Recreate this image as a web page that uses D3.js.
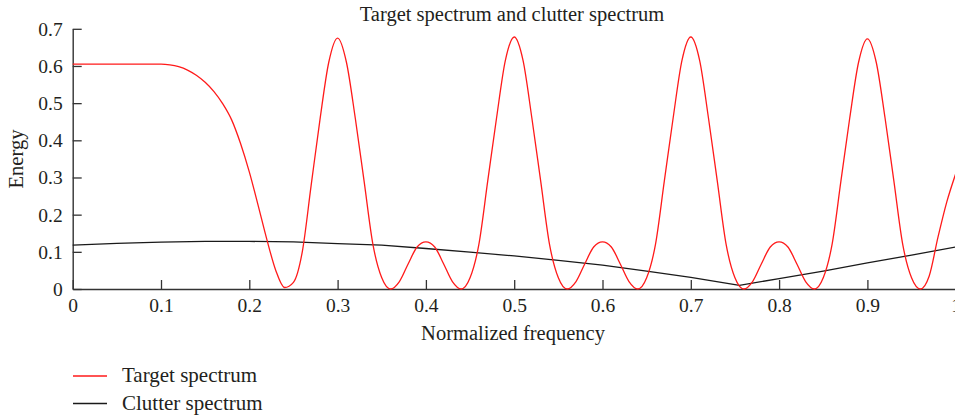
<!DOCTYPE html>
<html>
<head>
<meta charset="utf-8">
<script src="https://cdn.jsdelivr.net/npm/d3@7"></script>
<style>
  body { margin: 0; background: #fff; }
  svg { display: block; }
  text { font-family: "Liberation Serif", "DejaVu Serif", serif; fill: #231f20; }
</style>
</head>
<body>
<script>
// values
var targetFreq = d3.range(0, 101).map(function(i) { return i / 100; });
var targetEnergy = [
  0.605, 0.605, 0.605, 0.605, 0.605, 0.605, 0.605, 0.605, 0.605, 0.605,
  0.605, 0.603, 0.598, 0.589, 0.575, 0.556, 0.531, 0.498, 0.455, 0.392,
  0.315, 0.225, 0.132, 0.050, 0.004, 0.018, 0.100, 0.278, 0.455, 0.610,
  0.675, 0.610, 0.460, 0.290, 0.120, 0.030, 0.000, 0.020, 0.068, 0.113,
  0.127, 0.113, 0.068, 0.020, 0.000, 0.030, 0.120, 0.290, 0.460, 0.615,
  0.678, 0.615, 0.460, 0.290, 0.120, 0.030, 0.000, 0.020, 0.068, 0.113,
  0.127, 0.113, 0.068, 0.020, 0.000, 0.030, 0.120, 0.290, 0.460, 0.615,
  0.678, 0.615, 0.460, 0.290, 0.120, 0.030, 0.000, 0.020, 0.068, 0.113,
  0.127, 0.113, 0.068, 0.020, 0.000, 0.030, 0.120, 0.290, 0.460, 0.610,
  0.673, 0.610, 0.460, 0.290, 0.120, 0.030, 0.000, 0.035, 0.140, 0.235,
  0.310
];

var clutterFreq = [0, 0.05, 0.1, 0.15, 0.2, 0.25, 0.3, 0.35, 0.4, 0.45, 0.5,
  0.55, 0.6, 0.65, 0.7, 0.75, 0.755, 0.8, 0.85, 0.9, 0.95, 1];
var clutterEnergy = [0.118, 0.123, 0.126, 0.128, 0.128, 0.127, 0.122, 0.118, 0.109, 0.099, 0.089,
  0.077, 0.064, 0.048, 0.031, 0.012, 0.010, 0.028, 0.048, 0.070, 0.091, 0.113];

var xTicks = [0, 0.1, 0.2, 0.3, 0.4, 0.5, 0.6, 0.7, 0.8, 0.9, 1];
var yTicks = [0, 0.1, 0.2, 0.3, 0.4, 0.5, 0.6, 0.7];
var seriesNames = ["Target spectrum", "Clutter spectrum"];
var seriesColors = ["#ff1a1a", "#1a1a1a"];

var serif = "'Liberation Serif', 'DejaVu Serif', serif";
var w = 955, h = 417;

var svg = d3.select("body").append("svg")
  .attr("width", w)
  .attr("height", h);

var x = d3.scaleLinear().domain([0, 1]).range([72.7, 955.7]);
var y = d3.scaleLinear().domain([0, 0.7]).range([289, 28.8]);

// axes with inward ticks
var xAxis = svg.append("g")
  .attr("transform", "translate(0," + y(0) + ")")
  .call(d3.axisBottom(x).tickValues(xTicks).tickSize(-9).tickSizeOuter(0)
    .tickFormat(function(d) { return d === 0 ? "0" : d === 1 ? "1" : d3.format(".1f")(d); }))
  .attr("font-family", serif)
  .attr("font-size", 19.5);
xAxis.select(".domain").attr("stroke", "#333").attr("stroke-width", 1.4);
xAxis.selectAll(".tick line").attr("stroke", "#333").attr("stroke-width", 1.3);
xAxis.selectAll(".tick text")
  .attr("y", 23)
  .attr("dy", 0)
  .attr("fill", "#231f20")
  .style("font-family", serif)
  .style("font-size", "19.5px");

var yAxis = svg.append("g")
  .attr("transform", "translate(" + x(0) + ",0)")
  .call(d3.axisLeft(y).tickValues(yTicks).tickSize(-9).tickSizeOuter(0)
    .tickFormat(function(d) { return d === 0 ? "0" : d3.format(".1f")(d); }))
  .attr("font-family", serif)
  .attr("font-size", 19.5);
yAxis.select(".domain").attr("stroke", "#333").attr("stroke-width", 1.4);
yAxis.selectAll(".tick line").attr("stroke", "#333").attr("stroke-width", 1.3);
yAxis.selectAll(".tick text")
  .attr("x", -10)
  .attr("dy", "0.33em")
  .attr("fill", "#231f20")
  .style("font-family", serif)
  .style("font-size", "19.5px");

// series
var targetLine = d3.line()
  .x(function(d, i) { return x(targetFreq[i]); })
  .y(function(d) { return y(d); })
  .curve(d3.curveMonotoneX);

var clutterLine = d3.line()
  .x(function(d, i) { return x(clutterFreq[i]); })
  .y(function(d) { return y(d); });

svg.append("path")
  .datum(clutterEnergy)
  .attr("d", clutterLine)
  .attr("fill", "none")
  .attr("stroke", seriesColors[1])
  .attr("stroke-width", 1.3);

svg.append("path")
  .datum(targetEnergy)
  .attr("d", targetLine)
  .attr("fill", "none")
  .attr("stroke", seriesColors[0])
  .attr("stroke-width", 1.3);

// title and labels
svg.append("text")
  .attr("x", 512)
  .attr("y", 21)
  .attr("text-anchor", "middle")
  .style("font-size", "20.5px")
  .text("Target spectrum and clutter spectrum");

svg.append("text")
  .attr("x", 513)
  .attr("y", 340)
  .attr("text-anchor", "middle")
  .style("font-size", "20.5px")
  .text("Normalized frequency");

svg.append("text")
  .attr("transform", "translate(23,159) rotate(-90)")
  .attr("text-anchor", "middle")
  .style("font-size", "20.5px")
  .text("Energy");

// legend
var legend = svg.append("g");
seriesNames.forEach(function(name, i) {
  var ly = 376 + i * 27.5;
  legend.append("line")
    .attr("x1", 73).attr("x2", 107)
    .attr("y1", ly).attr("y2", ly)
    .attr("stroke", seriesColors[i])
    .attr("stroke-width", 1.3);
  legend.append("text")
    .attr("x", 122)
    .attr("y", ly + 6)
    .style("font-size", "21px")
    .text(name);
});
</script>
</body>
</html>
